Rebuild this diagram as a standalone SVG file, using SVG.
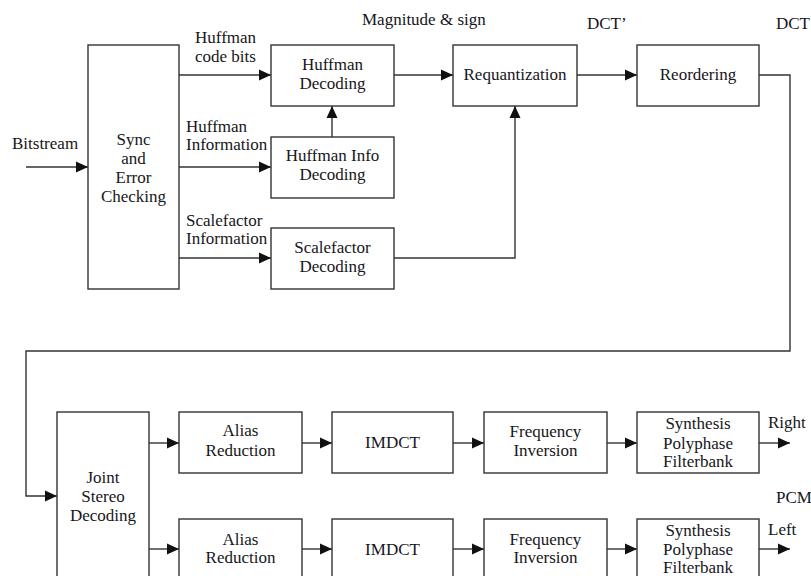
<svg xmlns="http://www.w3.org/2000/svg" width="811" height="576" viewBox="0 0 811 576">
<style>
.box{fill:#fff;stroke:#333;stroke-width:1.4}
.ln{fill:none;stroke:#333;stroke-width:1.4}
text{font-family:"Liberation Serif","Times New Roman",serif;font-size:17px;fill:#161620}
.c{text-anchor:middle}
</style>
<defs>
<marker id="ah" markerUnits="userSpaceOnUse" markerWidth="12" markerHeight="12" viewBox="0 0 12 12" refX="12" refY="6" orient="auto">
<path d="M0,0.5 L12,6 L0,11.5 Z" fill="#111"/>
</marker>
</defs>
<rect width="811" height="576" fill="#fff"/>
<g id="connectors">
<path class="ln" d="M26,167 H88" marker-end="url(#ah)"/>
<path class="ln" d="M179,75 H271" marker-end="url(#ah)"/>
<path class="ln" d="M179,167 H271" marker-end="url(#ah)"/>
<path class="ln" d="M179,258 H271" marker-end="url(#ah)"/>
<path class="ln" d="M332,137 V106" marker-end="url(#ah)"/>
<path class="ln" d="M394,75 H453" marker-end="url(#ah)"/>
<path class="ln" d="M394,258 H515 V106" marker-end="url(#ah)"/>
<path class="ln" d="M577,75 H637" marker-end="url(#ah)"/>
<path class="ln" d="M759,75 H790 V351 H26 V496 H57" marker-end="url(#ah)"/>
<path class="ln" d="M149,443 H179" marker-end="url(#ah)"/>
<path class="ln" d="M302,443 H332" marker-end="url(#ah)"/>
<path class="ln" d="M453,443 H484" marker-end="url(#ah)"/>
<path class="ln" d="M607,443 H637" marker-end="url(#ah)"/>
<path class="ln" d="M759,443 H790" marker-end="url(#ah)"/>
<path class="ln" d="M149,549 H179" marker-end="url(#ah)"/>
<path class="ln" d="M302,549 H332" marker-end="url(#ah)"/>
<path class="ln" d="M453,549 H484" marker-end="url(#ah)"/>
<path class="ln" d="M607,549 H637" marker-end="url(#ah)"/>
<path class="ln" d="M759,549 H790" marker-end="url(#ah)"/>
</g>
<g id="labels">
<text x="12" y="149">Bitstream</text>
<text x="195" y="43">Huffman</text>
<text x="195" y="62">code bits</text>
<text x="186" y="132">Huffman</text>
<text x="186" y="150">Information</text>
<text x="186" y="226">Scalefactor</text>
<text x="186" y="244">Information</text>
<text x="362" y="25">Magnitude &amp; sign</text>
<text x="587" y="29">DCT’</text>
<text x="776" y="29">DCT</text>
<text x="768" y="428">Right</text>
<text x="776" y="503">PCM</text>
<text x="768" y="535">Left</text>
</g>
<g id="sync">
<rect class="box" x="88" y="45" width="91" height="244"/>
<text class="c" x="133.5" y="145">Sync</text>
<text class="c" x="133.5" y="164">and</text>
<text class="c" x="133.5" y="183">Error</text>
<text class="c" x="133.5" y="202">Checking</text>
</g>
<g id="huffman-decoding">
<rect class="box" x="271" y="45" width="123" height="61"/>
<text class="c" x="332.5" y="70">Huffman</text>
<text class="c" x="332.5" y="89">Decoding</text>
</g>
<g id="huffman-info">
<rect class="box" x="271" y="137" width="123" height="61"/>
<text class="c" x="332.5" y="161">Huffman Info</text>
<text class="c" x="332.5" y="180">Decoding</text>
</g>
<g id="scalefactor">
<rect class="box" x="271" y="228" width="123" height="61"/>
<text class="c" x="332.5" y="253">Scalefactor</text>
<text class="c" x="332.5" y="272">Decoding</text>
</g>
<g id="requantization">
<rect class="box" x="453" y="45" width="124" height="61"/>
<text class="c" x="515" y="80">Requantization</text>
</g>
<g id="reordering">
<rect class="box" x="637" y="45" width="122" height="61"/>
<text class="c" x="698" y="80">Reordering</text>
</g>
<g id="joint-stereo">
<rect class="box" x="57" y="412" width="92" height="180"/>
<text class="c" x="103" y="483">Joint</text>
<text class="c" x="103" y="502">Stereo</text>
<text class="c" x="103" y="521">Decoding</text>
</g>
<g id="alias-1">
<rect class="box" x="179" y="412" width="123" height="61"/>
<text class="c" x="240.5" y="436">Alias</text>
<text class="c" x="240.5" y="456">Reduction</text>
</g>
<g id="imdct-1">
<rect class="box" x="332" y="412" width="121" height="61"/>
<text class="c" x="392.5" y="448">IMDCT</text>
</g>
<g id="freq-1">
<rect class="box" x="484" y="412" width="123" height="61"/>
<text class="c" x="545.5" y="437">Frequency</text>
<text class="c" x="545.5" y="456">Inversion</text>
</g>
<g id="synth-1">
<rect class="box" x="637" y="412" width="122" height="61"/>
<text class="c" x="698" y="429">Synthesis</text>
<text class="c" x="698" y="449">Polyphase</text>
<text class="c" x="698" y="467">Filterbank</text>
</g>
<g id="alias-2">
<rect class="box" x="179" y="519" width="123" height="61"/>
<text class="c" x="240.5" y="545">Alias</text>
<text class="c" x="240.5" y="563">Reduction</text>
</g>
<g id="imdct-2">
<rect class="box" x="332" y="519" width="121" height="61"/>
<text class="c" x="392.5" y="555">IMDCT</text>
</g>
<g id="freq-2">
<rect class="box" x="484" y="519" width="123" height="61"/>
<text class="c" x="545.5" y="545">Frequency</text>
<text class="c" x="545.5" y="563">Inversion</text>
</g>
<g id="synth-2">
<rect class="box" x="637" y="519" width="122" height="61"/>
<text class="c" x="698" y="536">Synthesis</text>
<text class="c" x="698" y="555">Polyphase</text>
<text class="c" x="698" y="573">Filterbank</text>
</g>
</svg>
